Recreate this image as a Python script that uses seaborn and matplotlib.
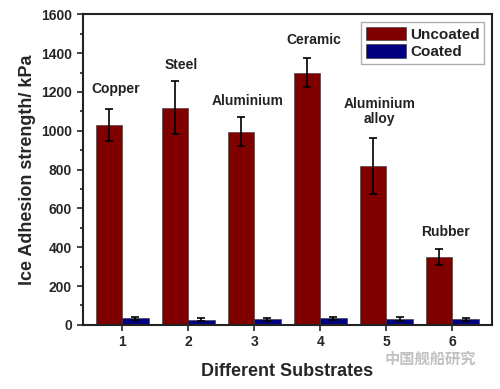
import numpy as np
import pandas as pd
import matplotlib
matplotlib.use("Agg")
import matplotlib.pyplot as plt
import seaborn as sns

substrates = ["1", "2", "3", "4", "5", "6"]
names = ["Copper", "Steel", "Aluminium", "Ceramic", "Aluminium\nalloy", "Rubber"]
uncoated = [1030, 1120, 995, 1300, 820, 350]
uncoated_err = [80, 135, 75, 75, 145, 40]
coated = [33, 27, 28, 33, 30, 28]
coated_err = [8, 7, 7, 6, 9, 7]

df = pd.DataFrame({
    "substrate": substrates * 2,
    "value": uncoated + coated,
    "type": ["Uncoated"] * 6 + ["Coated"] * 6,
})

sns.set_style("ticks")
plt.rcParams["font.family"] = ["Liberation Sans", "DejaVu Sans"]
plt.rcParams["font.weight"] = "bold"

fig, ax = plt.subplots(figsize=(5, 3.89), dpi=100)
sns.barplot(data=df, x="substrate", y="value", hue="type",
            palette=["#800000", "#000080"], errorbar=None,
            saturation=1, width=0.8, ax=ax, edgecolor="#333333", linewidth=0.4)

# error bars at bar centres
for cont, err in zip(ax.containers, [uncoated_err, coated_err]):
    xs = [p.get_x() + p.get_width() / 2 for p in cont.patches]
    hs = [p.get_height() for p in cont.patches]
    ax.errorbar(xs, hs, yerr=err, fmt="none", ecolor="black",
                elinewidth=1.2, capsize=3, capthick=1.2)

# substrate labels above bars
offsets = [70, 50, 45, 55, 60, 50]
for i, (n, v, e) in enumerate(zip(names, uncoated, uncoated_err)):
    ax.text(i - 0.1, v + e + offsets[i], n, ha="center", va="bottom",
            fontsize=10, fontweight="bold", color="#222222", linespacing=1.1)

ax.set_ylim(0, 1600)
ax.set_xlim(-0.6, 5.6)
ax.set_yticks(np.arange(0, 1601, 200))
ax.set_yticks(np.arange(100, 1600, 200), minor=True)
ax.tick_params(axis="both", direction="out", labelsize=10, width=1.2, length=4)
ax.tick_params(axis="y", which="minor", direction="out", width=1.2, length=2.5)
for lab in ax.get_xticklabels() + ax.get_yticklabels():
    lab.set_fontweight("bold")
for s in ax.spines.values():
    s.set_linewidth(1.5)
    s.set_color("#222222")

ax.set_xlabel("Different Substrates", fontsize=13, fontweight="bold", labelpad=10)
ax.set_ylabel("Ice Adhesion strength/ kPa", fontsize=13, fontweight="bold")

leg = ax.legend(loc="upper right", fontsize=11, frameon=True, fancybox=False,
                handlelength=2.6, handleheight=1.0, borderpad=0.3,
                labelspacing=0.15, handletextpad=0.3, edgecolor="#999999")
for t in leg.get_texts():
    t.set_fontweight("bold")
    t.set_color("#222222")

fig.text(0.86, 0.078, "中国舰船研究", fontsize=11, color="#bbbbbb",
         family=["Noto Sans CJK SC", "DejaVu Sans"], ha="center", va="center",
         alpha=0.9)

fig.subplots_adjust(left=0.165, right=0.984, top=0.963, bottom=0.165)
fig.savefig("out.png", dpi=100)
